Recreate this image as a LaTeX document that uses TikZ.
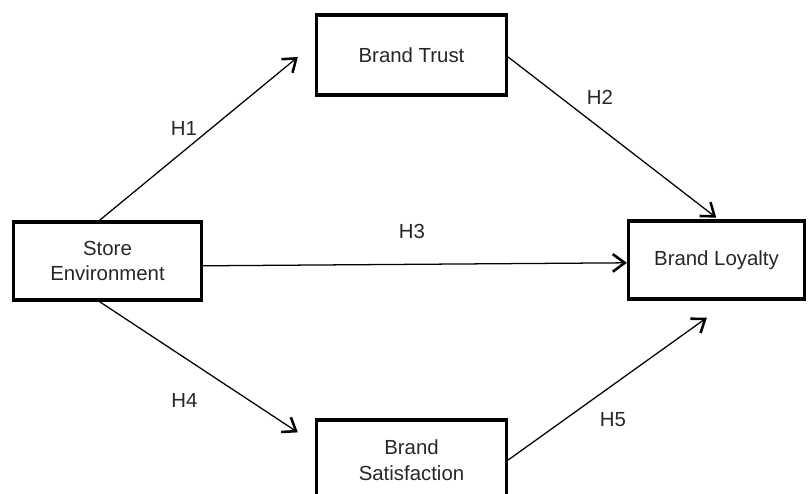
\documentclass[tikz,border=0pt]{standalone}
\usepackage{fontspec}
\setmainfont{Liberation Sans}
\usetikzlibrary{arrows.meta,positioning}

\begin{document}
\begin{tikzpicture}[
  x=0.025cm, y=-0.025cm,
  block/.style={draw, line width=2.3pt, minimum width=4.75cm, minimum height=2cm,
    inner sep=2pt, align=center, text=black!85,
    font=\fontsize{14.5}{18.4}\selectfont},
  hyp/.style={text=black!85, font=\fontsize{14.5}{18.4}\selectfont},
  arr/.style={-{Straight Barb[length=3mm, width=4.4mm, line width=1.8pt]}, line width=0.9pt}
]
\useasboundingbox (0,0) rectangle (808,493);

% Store environment
\node[block, minimum width=4.7cm, minimum height=1.95cm] (env) at (107.5,261) {Store\\Environment};

% Brand trust
\node[block] (trust) at (411.5,55) {Brand Trust};

% Brand loyalty
\node[block, minimum width=4.4cm, minimum height=1.95cm] (loyal) at (716.5,260) {Brand Loyalty};

% Brand satisfaction
\node[block] (satis) at (411.5,460) {Brand\\Satisfaction};

% Arrows
\draw[arr] ([xshift=-0.2cm]env.north) -- ([xshift=-0.425cm, yshift=-0.05cm]trust.west);
\draw[arr, shorten >=2pt] ([yshift=-0.05cm]trust.east) -- ([xshift=0.05cm]loyal.north);
\draw[arr] ([yshift=-0.12cm]env.east) -- ([yshift=-0.07cm]loyal.west);
\draw[arr] ([xshift=-0.2cm]env.south) -- ([xshift=-0.425cm, yshift=-0.35cm]satis.north west);
\draw[arr] (satis.east) -- ([xshift=-0.24cm, yshift=-0.425cm]loyal.south);

% Hypotheses
\node[hyp] (h1) at (184,128) {H1};
\node[hyp] (h2) at (600,97) {H2};
\node[hyp] (h3) at (412,231) {H3};
\node[hyp] (h4) at (184.5,400) {H4};
\node[hyp] (h5) at (613,420) {H5};

\end{tikzpicture}
\end{document}
